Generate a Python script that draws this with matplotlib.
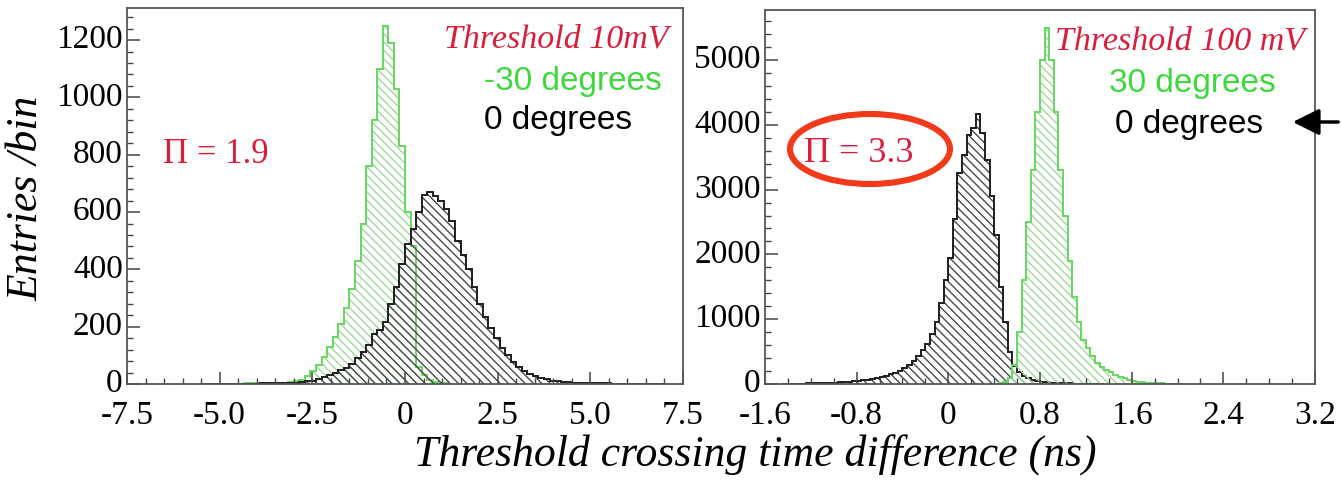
import numpy as np
import matplotlib
matplotlib.use("Agg")
import matplotlib.pyplot as plt
from matplotlib.patches import Ellipse, FancyArrowPatch
from matplotlib.ticker import MultipleLocator, FixedLocator, FixedFormatter

# ---------------- data ----------------
# Left panel (threshold 10 mV): bins of 0.15 ns
left_bin_width = 0.15
left_green_first_edge = -4.35
left_green_counts = [2, 2, 3, 3, 4, 4, 5, 5, 6, 9, 15, 28, 46, 68, 95, 130, 165, 210,
                     265, 330, 430, 560, 760, 920, 1100, 1250, 1190, 1030, 830, 600,
                     480, 60, 30, 15, 8, 4, 2, 1]
left_black_first_edge = -5.55
left_black_counts = [1, 1, 1, 1, 1, 1, 1, 1, 1, 1, 1, 2, 2, 2, 3, 3, 4, 5, 7, 9, 12,
                     18, 26, 33, 40, 48, 56, 70, 92, 110, 135, 175, 190, 215, 280, 340,
                     420, 490, 540, 600, 660, 670, 655, 640, 610, 570, 500, 450, 400,
                     340, 280, 235, 195, 160, 125, 100, 78, 58, 45, 35, 27, 20, 16, 12,
                     10, 8, 6, 5, 4, 3, 3, 2, 2, 2, 1, 1, 1, 1, 1, 1, 1, 1, 1, 1]

# Right panel (threshold 100 mV): bins of 0.04 ns
right_bin_width = 0.04
right_black_first_edge = -1.44
right_black_counts = [3, 4, 5, 6, 7, 8, 10, 12, 14, 17, 20, 23, 27, 32, 37, 43, 50, 58,
                      68, 80, 95, 110, 130, 150, 170, 200, 240, 290, 360, 430, 520, 620,
                      770, 950, 1250, 1600, 1950, 2550, 3250, 3530, 3850, 3950, 4170,
                      3870, 3450, 2900, 2300, 1500, 950, 500, 280, 180, 120, 90, 65, 50,
                      38, 29, 22, 17, 13, 10, 8, 6, 5, 4, 3, 2, 2, 1]
right_green_first_edge = 0.40
right_green_counts = [4, 10, 30, 90, 300, 800, 1600, 2500, 3300, 4200, 5000, 5500, 5000,
                      4200, 3300, 2600, 1900, 1350, 950, 680, 560, 430, 330, 270, 220,
                      180, 140, 110, 85, 65, 50, 38, 28, 21, 15, 11, 8, 6, 4, 3, 2, 1]

left_xticks = [-7.5, -5.0, -2.5, 0, 2.5, 5.0, 7.5]
left_xticklabels = ["-7.5", "-5.0", "-2.5", "0", "2.5", "5.0", "7.5"]
left_yticks = [0, 200, 400, 600, 800, 1000, 1200]
right_xticks = [-1.6, -0.8, 0, 0.8, 1.6, 2.4, 3.2]
right_xticklabels = ["-1.6", "-0.8", "0", "0.8", "1.6", "2.4", "3.2"]
right_yticks = [0, 1000, 2000, 3000, 4000, 5000]

# ---------------- style ----------------
SERIF = ["Liberation Serif", "DejaVu Serif"]
SANS = ["Liberation Sans", "DejaVu Sans"]
plt.rcParams["font.family"] = SERIF
plt.rcParams["hatch.linewidth"] = 1.0

GREEN_LINE = "#66d860"
GREEN_HATCH = "#a0d89c"
BLACK_LINE = "#1e1e1e"
BLACK_HATCH = "#4a4a4a"
RED_TXT = "#d81e3c"
GREEN_TXT = "#3ed83e"

W, H = 1341, 482
fig = plt.figure(figsize=(W / 100, H / 100), dpi=100)


def px_axes(l, r, t, b):
    return [l / W, (H - b) / H, (r - l) / W, (b - t) / H]


ax1 = fig.add_axes(px_axes(127, 683, 8, 384))
ax2 = fig.add_axes(px_axes(765, 1315, 10, 384))


def edges_for(first_edge, width, counts):
    return first_edge + width * np.arange(len(counts) + 1)


def draw_hist(ax, counts, first_edge, width, line_color, hatch_color, hatch):
    counts = np.asarray(counts, dtype=float)
    edges = edges_for(first_edge, width, counts)
    ax.stairs(counts, edges, fill=True, facecolor="none", edgecolor=hatch_color,
              hatch=hatch, linewidth=0)
    ax.stairs(counts, edges, fill=False, color=line_color, linewidth=1.4)


HATCH = "\\\\\\\\"
draw_hist(ax1, left_green_counts, left_green_first_edge, left_bin_width,
          GREEN_LINE, GREEN_HATCH, HATCH)
draw_hist(ax1, left_black_counts, left_black_first_edge, left_bin_width,
          BLACK_LINE, BLACK_HATCH, HATCH)
draw_hist(ax2, right_black_counts, right_black_first_edge, right_bin_width,
          BLACK_LINE, BLACK_HATCH, HATCH)
draw_hist(ax2, right_green_counts, right_green_first_edge, right_bin_width,
          GREEN_LINE, GREEN_HATCH, HATCH)

ax1.set_xlim(-7.5, 7.5)
ax1.set_ylim(0, 1312)
ax2.set_xlim(-1.6, 3.2)
ax2.set_ylim(0, 5772)

for ax, xt, xl, yt, xminor, yminor in [
        (ax1, left_xticks, left_xticklabels, left_yticks, 0.5, 40),
        (ax2, right_xticks, right_xticklabels, right_yticks, 0.2, 200)]:
    ax.xaxis.set_major_locator(FixedLocator(xt))
    ax.xaxis.set_major_formatter(FixedFormatter(xl))
    ax.yaxis.set_major_locator(FixedLocator(yt))
    ax.xaxis.set_minor_locator(MultipleLocator(xminor))
    ax.yaxis.set_minor_locator(MultipleLocator(yminor))
    ax.tick_params(which="both", direction="in", top=False, right=False,
                   colors="#444444", labelcolor="black", labelsize=24)
    ax.tick_params(which="major", length=9, width=1.1)
    ax.tick_params(which="minor", length=4.5, width=1.0)
    ax.tick_params(axis="x", pad=12)
    ax.tick_params(axis="y", pad=3)
    for sp in ax.spines.values():
        sp.set_color("#555555")
        sp.set_linewidth(1.3)
    for lab in ax.get_xticklabels() + ax.get_yticklabels():
        lab.set_family(SERIF)
    for lab in ax.get_yticklabels():
        lab.set_verticalalignment("center")

# ---------------- texts ----------------
def ftxt(x, y, s, **kw):
    fig.text(x / W, 1 - y / H, s, **kw)


ftxt(668, 48, "Threshold 10mV", color=RED_TXT, fontsize=24.5, style="italic",
     ha="right", va="baseline", family=SERIF)
ftxt(484, 90, "-30 degrees", color=GREEN_TXT, fontsize=24, ha="left",
     va="baseline", family=SANS)
ftxt(484, 129, "0 degrees", color="black", fontsize=24, ha="left",
     va="baseline", family=SANS)
ftxt(163, 163, "\u03a0 = 1.9", color=RED_TXT, fontsize=25, ha="left",
     va="baseline", family=SERIF)

ftxt(1305, 50, "Threshold 100 mV", color=RED_TXT, fontsize=24.5, style="italic",
     ha="right", va="baseline", family=SERIF)
ftxt(1192, 92, "30 degrees", color=GREEN_TXT, fontsize=24, ha="center",
     va="baseline", family=SANS)
ftxt(1189, 133, "0 degrees", color="black", fontsize=24, ha="center",
     va="baseline", family=SANS)
ftxt(804, 162, "\u03a0 = 3.3", color=RED_TXT, fontsize=26, ha="left",
     va="baseline", family=SERIF)

ftxt(755, 455, "Threshold crossing time difference (ns)", fontsize=31.5,
     style="italic", ha="center", va="center", family=SERIF)
ftxt(27, 198, "Entries /bin", fontsize=31.5, style="italic", rotation=90,
     ha="center", va="center", family=SERIF)

# red ellipse and arrow (annotation marks)
ell = Ellipse((870 / W, 1 - 149 / H), 160 / W, 70 / H, transform=fig.transFigure,
              fill=False, edgecolor="#f23a1a", linewidth=4.4)
fig.add_artist(ell)
arr = FancyArrowPatch((1341 / W, 1 - 122 / H), (1290 / W, 1 - 122 / H),
                      transform=fig.transFigure, arrowstyle="-|>,head_length=10,head_width=5",
                      mutation_scale=1.6, linewidth=2.5, color="black")
fig.add_artist(arr)

fig.savefig("out.png", dpi=100)
